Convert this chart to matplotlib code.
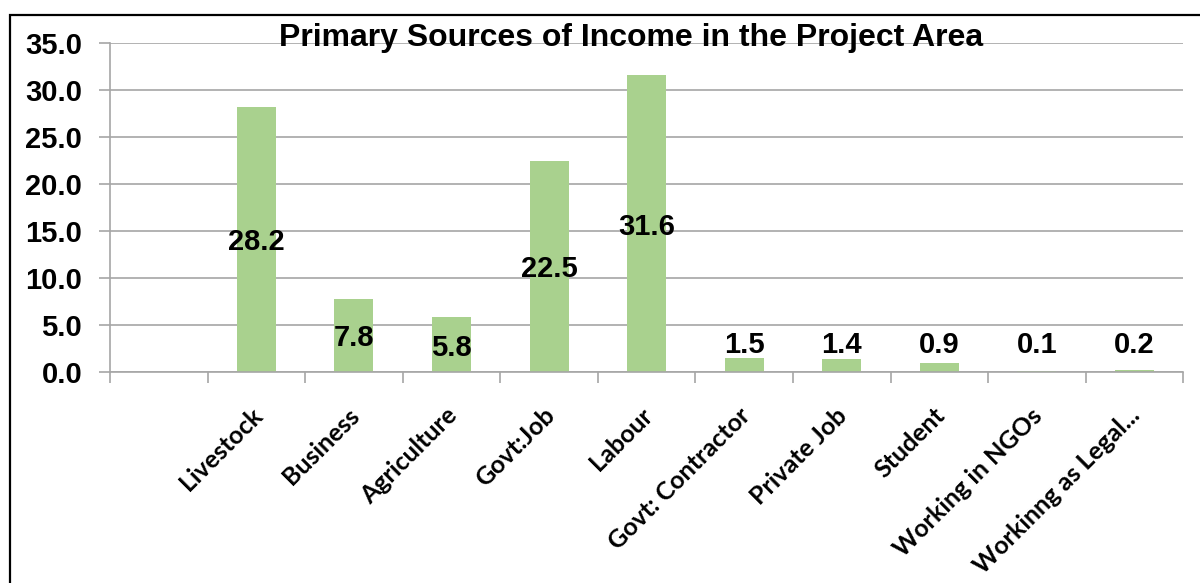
import matplotlib.pyplot as plt
from matplotlib.patches import Rectangle
from matplotlib.transforms import offset_copy

categories = ['', 'Livestock', 'Business', 'Agriculture', 'Govt:Job', 'Labour',
              'Govt: Contractor', 'Private Job', 'Student', 'Working in NGOs',
              'Workinng as Legal...']
values = [None, 28.2, 7.8, 5.8, 22.5, 31.6, 1.5, 1.4, 0.9, 0.1, 0.2]
yticks = [0, 5, 10, 15, 20, 25, 30, 35]

bar_color = '#a9d18e'
grid_color = '#a6a6a6'
num_font = 'Liberation Sans'
cat_font = 'Lato'

fig = plt.figure(figsize=(12, 5.83), dpi=100)
ax = fig.add_axes([0.0917, 0.362, 0.8943, 0.564])

xs = [i for i, v in enumerate(values) if v is not None]
vals = [v for v in values if v is not None]
ax.bar(xs, vals, width=0.4, color=bar_color, zorder=2)

# value labels: inside the bar when it is tall enough, otherwise on one row above
for x, v in zip(xs, vals):
    if v >= 5:
        ax.text(x, v / 2, f'{v:.1f}', ha='center', va='center_baseline',
                fontsize=21, fontweight='bold', family=num_font, zorder=3)
    else:
        ax.text(x, 2.0, f'{v:.1f}', ha='center', va='baseline',
                fontsize=21, fontweight='bold', family=num_font, zorder=3)

ax.set_xlim(-0.5, len(categories) - 0.5)
ax.set_ylim(0, 35)
ax.set_yticks(yticks)
ax.set_yticklabels([f'{t:.1f}' for t in yticks], fontsize=21,
                   fontweight='bold', family=num_font)
ax.yaxis.grid(True, color=grid_color, linewidth=1.2, zorder=0)
ax.set_axisbelow(True)

ax.set_xticks(range(len(categories)))
ax.set_xticklabels([])
ax.set_xticks([i - 0.5 for i in range(len(categories) + 1)], minor=True)
ax.tick_params(axis='x', which='major', length=0)
ax.tick_params(axis='x', which='minor', length=8, color=grid_color, width=1.2)
ax.tick_params(axis='y', length=8, color=grid_color, width=1.2, pad=12)

trans = offset_copy(ax.get_xaxis_transform(), fig=fig, x=2, y=-40, units='dots')
for i, lab in enumerate(categories):
    ax.text(i, 0, lab, transform=trans, rotation=45, ha='right', va='center',
            rotation_mode='anchor', fontsize=18, fontweight='bold',
            family=cat_font)

for side in ['top', 'right']:
    ax.spines[side].set_visible(False)
for side in ['left', 'bottom']:
    ax.spines[side].set_color(grid_color)
    ax.spines[side].set_linewidth(1.2)

fig.text(0.526, 0.935, 'Primary Sources of Income in the Project Area',
         ha='center', va='center', fontsize=23, fontweight='bold',
         family=num_font)

# chart frame
fig.patches.append(Rectangle((0.0085, -0.2), 1.2, 0.2 + 0.974,
                             transform=fig.transFigure, fill=False,
                             edgecolor='black', linewidth=1.6))

fig.savefig('out.png', dpi=100)
